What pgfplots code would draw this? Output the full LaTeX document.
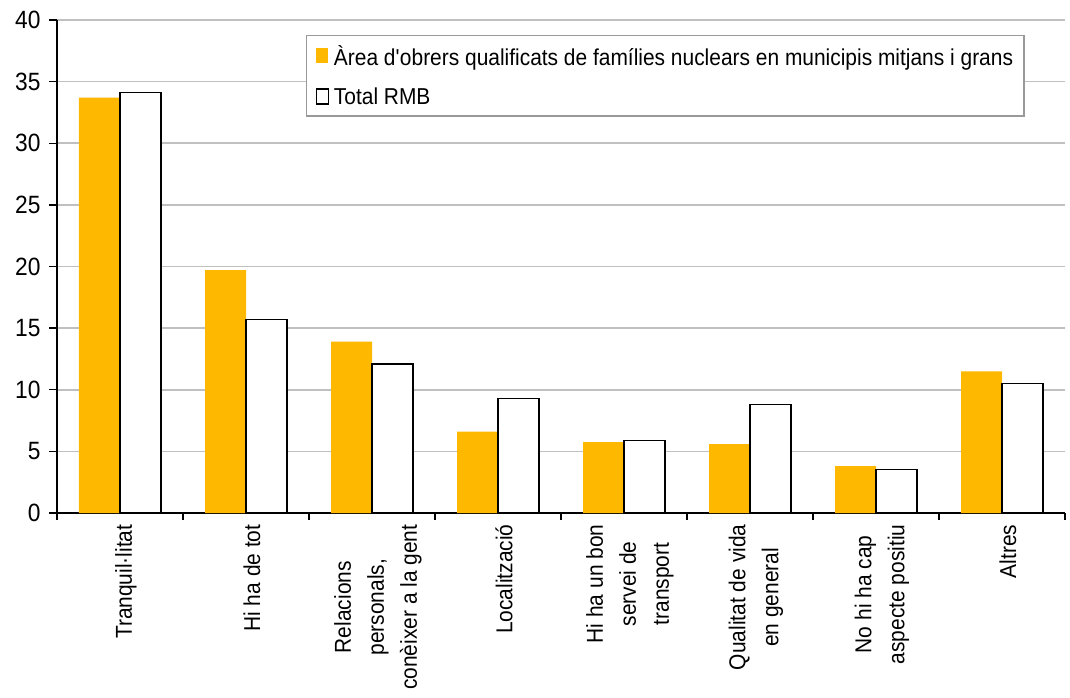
\documentclass[border=0pt]{standalone}
\usepackage{pgfplots}
\pgfplotsset{compat=1.18}
\usepackage{fontspec}
\setmainfont{Liberation Sans}[FakeStretch=0.91]
\definecolor{barorange}{RGB}{255,184,0}
\definecolor{gridgray}{RGB}{192,192,192}
\begin{document}
\begin{tikzpicture}
\begin{axis}[
  scale only axis, width=1008pt, height=493pt,
  xmin=-0.5, xmax=7.5, ymin=0, ymax=40,
  ytick={0,5,...,40},
  ymajorgrids, grid style={gridgray, line width=1.6pt},
  axis x line*=bottom, axis y line*=left,
  axis line style={-, line width=1.3pt, black},
  ybar=0pt, bar width=41pt,
  xtick={0,...,7},
  xticklabels={Tranquil·litat, Hi ha de tot, {Relacions\\personals,\\conèixer a la gent}, Localització, {Hi ha un bon\\servei de\\transport}, {Qualitat de vida\\en general}, {No hi ha cap\\aspecte positiu}, Altres},
  major x tick style={draw=none},
  minor xtick={-0.5,0.5,...,7.5},
  tick align=outside,
  major tick length=8pt, minor tick length=7pt,
  tick style={black, line width=1.3pt},
  /pgf/number format/assume math mode=true,
  x tick label style={rotate=90, anchor=east, align=center, font=\fontsize{23}{33}\selectfont, yshift=-6pt},
  y tick label style={font=\fontsize{25}{28}\selectfont, xshift=-5pt},
  legend style={at={(0.96,0.97)}, anchor=north east, draw=gray!80, line width=1.2pt, font=\fontsize{23}{26}\selectfont, row sep=17pt, inner xsep=9pt, inner ysep=8pt},
  legend cell align=left,
]
\addplot[fill=barorange, draw=none,
  legend image code/.code={\fill[barorange] (0pt,-7pt) rectangle (12pt,8pt); \path (15pt,0pt);}]
  coordinates {(0,33.7) (1,19.7) (2,13.9) (3,6.6) (4,5.75) (5,5.6) (6,3.8) (7,11.5)};
\addplot[fill=white, draw=black, line width=1.5pt,
  legend image code/.code={\draw[black, fill=white, line width=1.3pt] (0pt,-7pt) rectangle (12pt,8pt); \path (15pt,0pt);}]
  coordinates {(0,34.1) (1,15.7) (2,12.1) (3,9.3) (4,5.9) (5,8.8) (6,3.55) (7,10.5)};
\legend{Àrea d\textquotesingle obrers qualificats de famílies nuclears en municipis mitjans i grans, Total RMB}
\end{axis}
\pgfresetboundingbox
\path ([xshift=-57pt,yshift=-184pt]current axis.south west) rectangle ([xshift=5pt,yshift=20pt]current axis.north east);
\end{tikzpicture}
\end{document}
